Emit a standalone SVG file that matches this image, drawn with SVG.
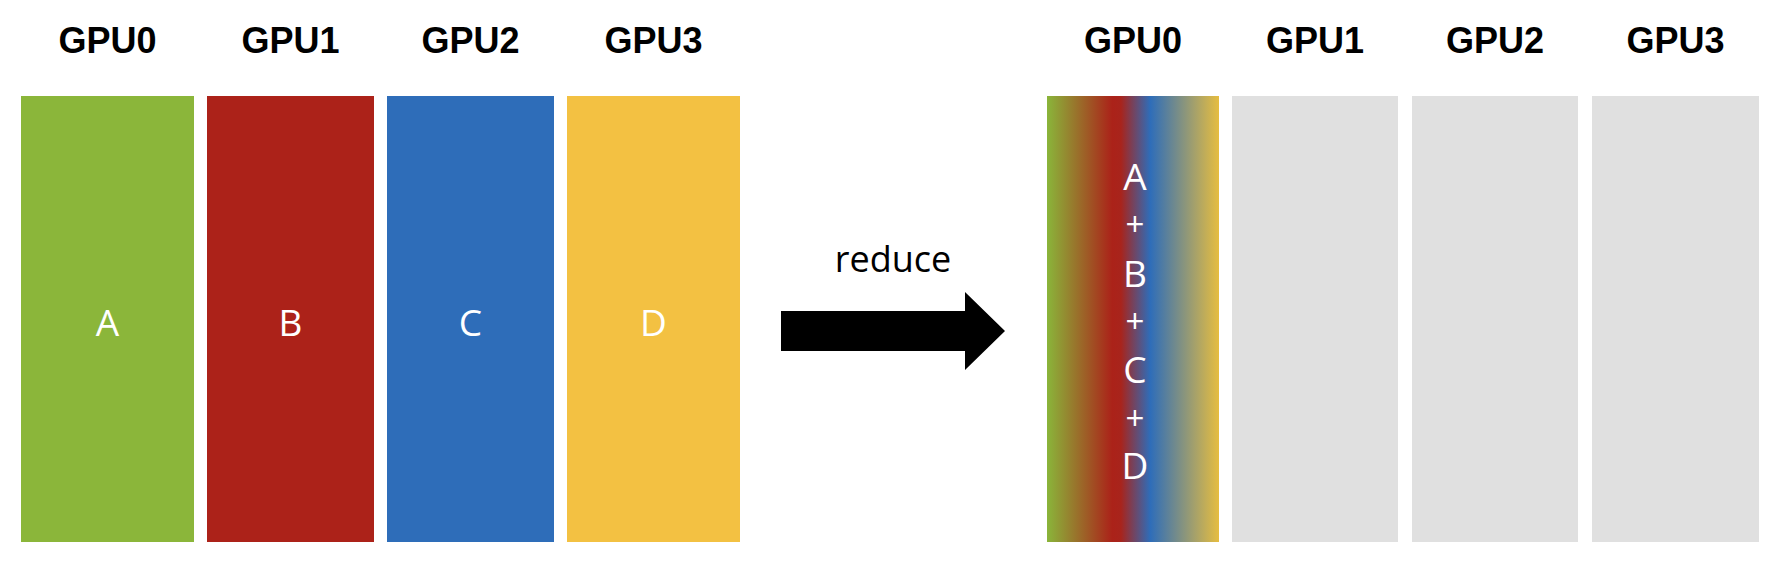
<svg xmlns="http://www.w3.org/2000/svg" width="1784" height="568" viewBox="0 0 1784 568">
<style>
.hdr{font-family:"Liberation Sans",Arial,sans-serif;font-weight:bold;font-size:36px;fill:#000;text-anchor:middle}
.lbl{font-family:"Open Sans","Liberation Sans",sans-serif;font-size:37px;fill:#fff;text-anchor:middle}
.op{font-family:"Open Sans","Liberation Sans",sans-serif;font-size:33px;fill:#fff;text-anchor:middle}
.cap{font-family:"Open Sans","Liberation Sans",sans-serif;font-size:36px;fill:#000;text-anchor:middle}
</style>
<defs>
<linearGradient id="mix" x1="0" y1="0" x2="1" y2="0">
<stop offset="0" stop-color="#8AB53A"/>
<stop offset="0.38" stop-color="#AB2219"/>
<stop offset="0.43" stop-color="#A8241C"/>
<stop offset="0.6" stop-color="#2E6DB9"/>
<stop offset="1" stop-color="#E6BD40"/>
</linearGradient>
</defs>
<rect width="1784" height="568" fill="#fff"/>
<g id="left-gpu0"><text class="hdr" x="107.5" y="53">GPU0</text><rect x="21" y="96" width="173" height="446" fill="#8BB63A"/><text class="lbl" x="107.5" y="336">A</text></g>
<g id="left-gpu1"><text class="hdr" x="290.5" y="53">GPU1</text><rect x="207" y="96" width="167" height="446" fill="#AC2219"/><text class="lbl" x="290.5" y="336">B</text></g>
<g id="left-gpu2"><text class="hdr" x="470.5" y="53">GPU2</text><rect x="387" y="96" width="167" height="446" fill="#2E6DB9"/><text class="lbl" x="470.5" y="336">C</text></g>
<g id="left-gpu3"><text class="hdr" x="653.5" y="53">GPU3</text><rect x="567" y="96" width="173" height="446" fill="#F3C142"/><text class="lbl" x="653.5" y="336">D</text></g>
<g id="connectors">
<polygon points="781,311 965,311 965,292 1005,331 965,370 965,351 781,351" fill="#000"/>
<text class="cap" x="893" y="272">reduce</text>
</g>
<g id="right-gpu0"><text class="hdr" x="1133" y="53">GPU0</text><rect x="1047" y="96" width="172" height="446" fill="url(#mix)"/>
<text class="lbl" x="1135" y="190">A</text><text class="op" x="1135" y="236">+</text>
<text class="lbl" x="1135" y="287">B</text><text class="op" x="1135" y="333">+</text>
<text class="lbl" x="1135" y="383">C</text><text class="op" x="1135" y="430">+</text>
<text class="lbl" x="1135" y="479">D</text></g>
<g id="right-gpu1"><text class="hdr" x="1315" y="53">GPU1</text><rect x="1232" y="96" width="166" height="446" fill="#E0E0E0"/></g>
<g id="right-gpu2"><text class="hdr" x="1495" y="53">GPU2</text><rect x="1412" y="96" width="166" height="446" fill="#E0E0E0"/></g>
<g id="right-gpu3"><text class="hdr" x="1675.5" y="53">GPU3</text><rect x="1592" y="96" width="167" height="446" fill="#E0E0E0"/></g>
</svg>
